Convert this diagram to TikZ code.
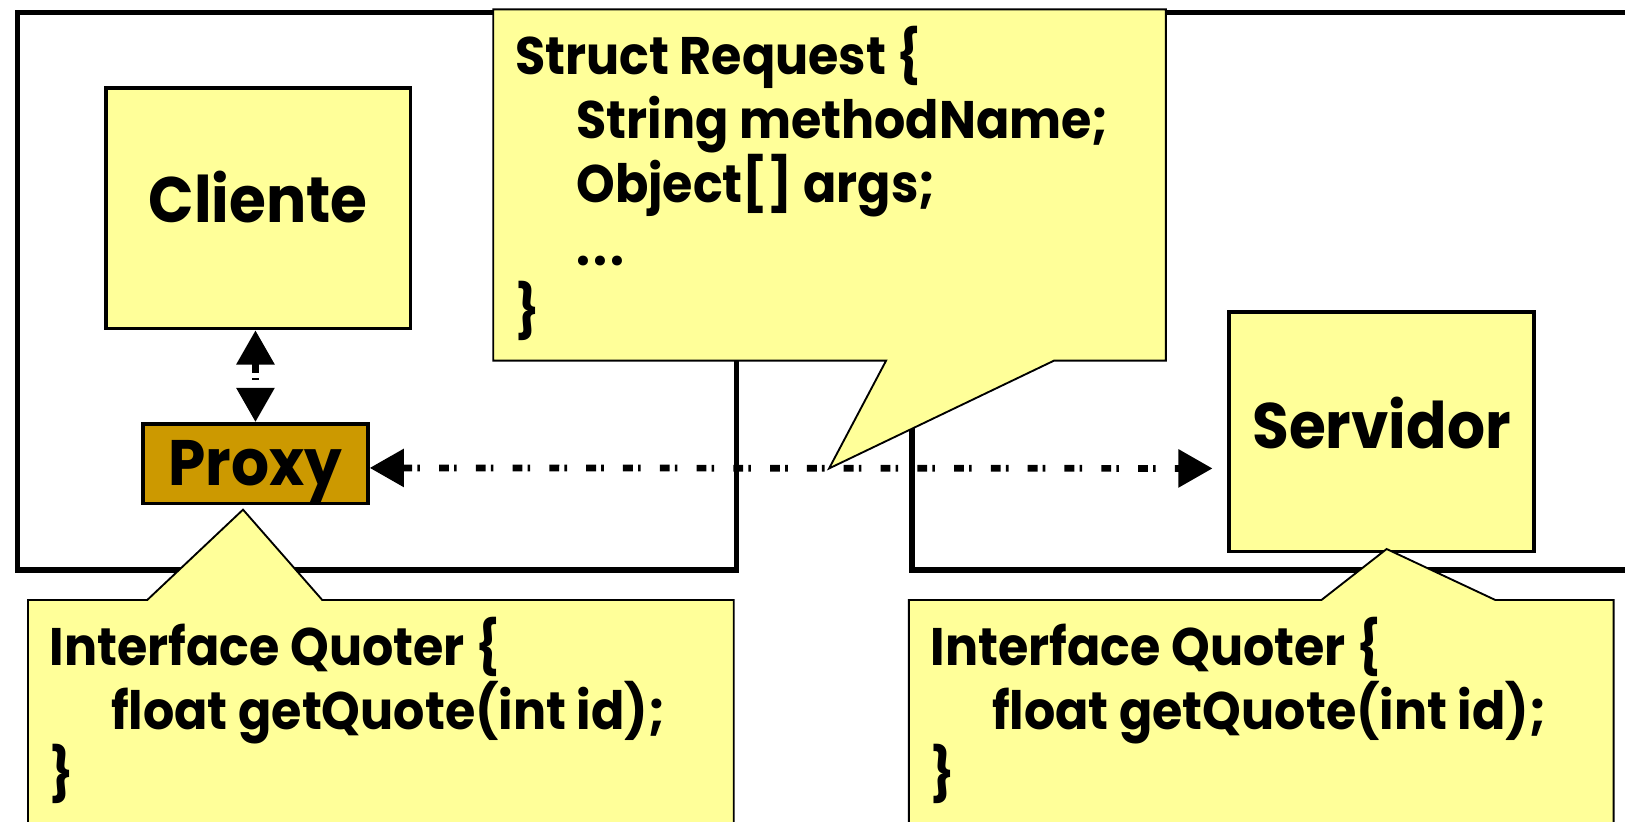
\documentclass[tikz,border=0pt]{standalone}
\usepackage{fontspec}
\setmainfont{Poppins}[FakeStretch=0.93]
\usetikzlibrary{arrows.meta}
\definecolor{notefill}{HTML}{FFFF99}
\definecolor{proxyfill}{HTML}{CC9900}

\tikzset{
  frame/.style={draw, line width=5.5pt, anchor=north west, inner sep=0pt},
  unit/.style={draw, line width=3.5pt, fill=notefill, inner sep=0pt,
    font=\fontsize{62}{62}\selectfont\bfseries},
  proxybox/.style={unit, fill=proxyfill},
  link/.style={line width=6.5pt, dash pattern=on 9.5pt off 5pt on 2.5pt off 18.5pt,
    {Triangle[length=33pt,width=35.5pt]}-{Triangle[length=33pt,width=35.5pt]}},
  note/.style={draw, line width=1.8pt, fill=notefill, line join=miter},
  code/.style={anchor=base west, align=left, inner sep=0pt,
    font=\fontsize{51}{61.5}\selectfont\bfseries}
}

\begin{document}
\begin{tikzpicture}[x=1pt, y=-1pt]
\useasboundingbox (0,0) rectangle (1568,793);
\clip (0,0) rectangle (1568,793);

% client and server process frames
\node[frame, minimum width=694pt, minimum height=538pt] (clientside) at (14,9.2) {};
\node[frame, minimum width=740pt, minimum height=538pt] (serverside) at (877,9.2) {};

% components
\node[unit, minimum width=294pt, minimum height=232pt, text height=28pt, text depth=0pt]
  (cliente) at (249,201) {Cliente};
\node[proxybox, minimum width=217pt, minimum height=77pt, text height=41pt, text depth=0pt]
  (proxy) at (246.5,447.5) {Proxy};
\node[unit, minimum width=294pt, minimum height=231pt, text height=33pt, text depth=0pt]
  (servidor) at (1333,416.5) {Servidor};

% invocation paths
\coordinate (srvport) at (1170,452);
\coordinate (msg) at (800,452);
\draw[link] (cliente.south -| proxy.north) -- (proxy.north);
\draw[link] ([yshift=-4pt]proxy.east) -- (srvport);

% message structure note
\draw[note] (476,9) -- (1125,9) -- (1125,348) -- (1017,348) -- (msg)
  -- (855,348) -- (476,348) -- cycle;
\node[code] (request) at (497,318) {Struct Request \{\\
\hspace*{59pt}String methodName;\\
\hspace*{59pt}Object[] args;\\
\hspace*{59pt}\makebox[46pt][s]{.\hfill.\hfill.}\\
\}};

% interface notes
\coordinate (proxytip) at ([xshift=-12pt,yshift=-4pt]proxy.south);
\coordinate (servtip) at ([xshift=5pt,yshift=4pt]servidor.south);
\draw[note] (27,579) -- (142,579) -- (proxytip) -- (311,579) -- (708,579)
  -- (708,815) -- (27,815) -- cycle;
\draw[note] (877,579) -- (1275,579) -- (servtip) -- (1443,579) -- (1557,579)
  -- (1557,815) -- (877,815) -- cycle;
\node[code] (clientiface) at (48,765) {Interface Quoter \{\\
\hspace*{59pt}float getQuote(int id);\\
\}};
\node[code] (serveriface) at (898,765) {Interface Quoter \{\\
\hspace*{59pt}float getQuote(int id);\\
\}};
\end{tikzpicture}
\end{document}
